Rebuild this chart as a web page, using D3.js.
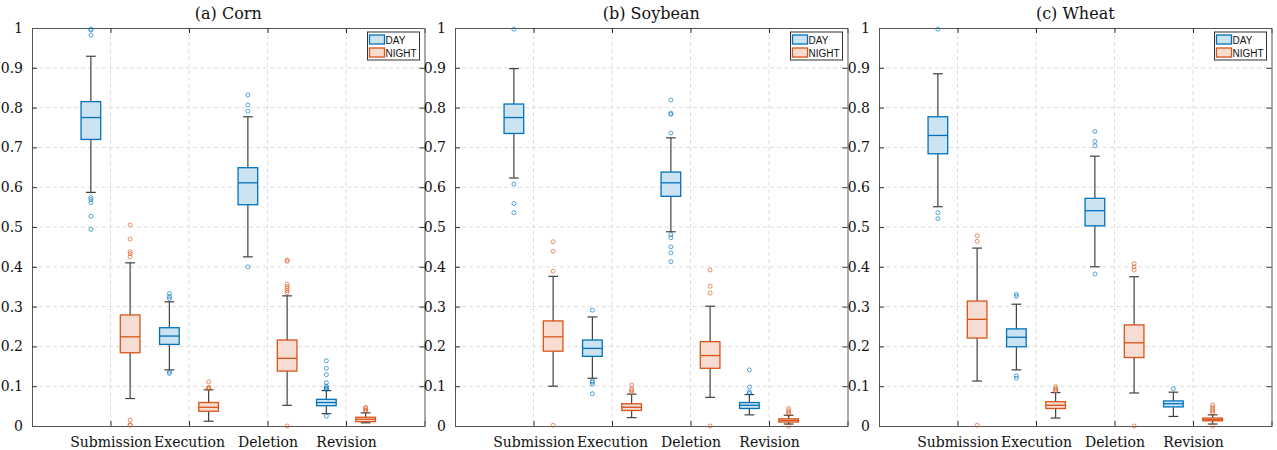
<!DOCTYPE html>
<html>
<head>
<meta charset="utf-8">
<script src="https://cdn.jsdelivr.net/npm/d3@7"></script>
<style>
  body { margin: 0; background: #fff; }
  svg { display: block; }
</style>
</head>
<body>
<div class="chart"></div>
<script>
// Box plots: day vs night ratios per operation, for three crops

var categories = ["Submission", "Execution", "Deletion", "Revision"];
var groups = ["DAY", "NIGHT"];
var y_ticks = [0, 0.1, 0.2, 0.3, 0.4, 0.5, 0.6, 0.7, 0.8, 0.9, 1];
var titles = ["(a) Corn", "(b) Soybean", "(c) Wheat"];

// [lower whisker, q1, median, q3, upper whisker] per category
var corn_day = [[0.587, 0.720, 0.775, 0.815, 0.929], [0.141, 0.205, 0.226, 0.247, 0.312], [0.425, 0.556, 0.611, 0.649, 0.777], [0.031, 0.051, 0.059, 0.067, 0.089]];
var corn_night = [[0.069, 0.184, 0.224, 0.279, 0.410], [0.012, 0.037, 0.047, 0.059, 0.091], [0.052, 0.138, 0.170, 0.216, 0.327], [0.008, 0.011, 0.017, 0.022, 0.033]];
var corn_day_out = [[0.997, 0.995, 0.982, 0.574, 0.569, 0.561, 0.527, 0.494], [0.333, 0.325, 0.320, 0.136, 0.132], [0.832, 0.807, 0.791, 0.400], [0.164, 0.145, 0.129, 0.109, 0.100, 0.096, 0.094, 0.092, 0.025]];
var corn_night_out = [[0.505, 0.470, 0.438, 0.433, 0.425, 0.015, 0.003, 0.002], [0.111, 0.097, 0.095, 0.093], [0.417, 0.414, 0.356, 0.350, 0.345, 0.340, 0.335, 0.0], [0.047, 0.044, 0.040, 0.037]];

var soy_day = [[0.623, 0.735, 0.775, 0.809, 0.898], [0.120, 0.175, 0.195, 0.216, 0.274], [0.488, 0.577, 0.611, 0.638, 0.724], [0.028, 0.044, 0.052, 0.059, 0.079]];
var soy_night = [[0.100, 0.188, 0.224, 0.264, 0.376], [0.021, 0.039, 0.047, 0.056, 0.080], [0.072, 0.145, 0.177, 0.212, 0.301], [0.005, 0.010, 0.014, 0.018, 0.027]];
var soy_day_out = [[0.997, 0.608, 0.559, 0.536], [0.291, 0.113, 0.110, 0.105, 0.081], [0.819, 0.786, 0.783, 0.736, 0.481, 0.473, 0.450, 0.435, 0.413], [0.141, 0.098, 0.085, 0.082]];
var soy_night_out = [[0.463, 0.439, 0.389, 0.002], [0.103, 0.093, 0.089, 0.084], [0.392, 0.351, 0.334, 0.0], [0.044, 0.038, 0.033, 0.029, 0.0]];

var wheat_day = [[0.551, 0.684, 0.730, 0.777, 0.885], [0.141, 0.199, 0.223, 0.244, 0.306], [0.400, 0.503, 0.541, 0.572, 0.678], [0.024, 0.048, 0.056, 0.063, 0.085]];
var wheat_night = [[0.113, 0.221, 0.268, 0.314, 0.447], [0.020, 0.044, 0.052, 0.061, 0.084], [0.083, 0.172, 0.209, 0.254, 0.375], [0.005, 0.013, 0.016, 0.020, 0.028]];
var wheat_day_out = [[0.997, 0.536, 0.521], [0.331, 0.326, 0.126, 0.120], [0.740, 0.715, 0.704, 0.382], [0.094]];
var wheat_night_out = [[0.478, 0.464, 0.002], [0.099, 0.094, 0.090, 0.088], [0.408, 0.400, 0.392, 0.0], [0.053, 0.047, 0.042, 0.037, 0.032, 0.0]];

var panels = [
    {title: titles[0], stats: [corn_day, corn_night], out: [corn_day_out, corn_night_out]},
    {title: titles[1], stats: [soy_day, soy_night], out: [soy_day_out, soy_night_out]},
    {title: titles[2], stats: [wheat_day, wheat_night], out: [wheat_day_out, wheat_night_out]}
];

var edge_colors = ["#0072BD", "#D95319"];
var face_colors = ["#cce3f2", "#f7ddd1"];

var svg_width = 1277, svg_height = 450;
var panel_left = [32, 455, 879];
var panel_width = 392.5;
var plot_top = 28, plot_bottom = 426;

var svg = d3.select('.chart')
    .append('svg')
        .attr('width', svg_width)
        .attr('height', svg_height);

var y = d3.scaleLinear().domain([0, 1]).range([plot_bottom, plot_top]);

panels.forEach(function(p, pi) {
    var x = d3.scaleLinear()
        .domain([0, categories.length + 1])
        .range([0, panel_width]);

    var g = svg.append('g')
        .attr('transform', 'translate(' + panel_left[pi] + ',0)');

    // grid
    g.selectAll('.hgrid')
        .data(y_ticks.slice(1, -1))
        .enter().append('line')
            .attr('x1', 0).attr('x2', panel_width)
            .attr('y1', function(d) { return y(d); })
            .attr('y2', function(d) { return y(d); })
            .attr('stroke', '#dedede')
            .attr('stroke-dasharray', '4,3');
    g.selectAll('.vgrid')
        .data(categories)
        .enter().append('line')
            .attr('x1', function(d, i) { return x(i + 1); })
            .attr('x2', function(d, i) { return x(i + 1); })
            .attr('y1', plot_top).attr('y2', plot_bottom)
            .attr('stroke', '#dedede')
            .attr('stroke-dasharray', '4,3');

    // axes with inward ticks
    g.append('g')
        .call(d3.axisLeft(y).tickValues(y_ticks).tickSize(-5).tickPadding(9)
            .tickFormat(function(d) { return String(+d.toFixed(1)); }));
    g.append('g')
        .attr('transform', 'translate(' + panel_width + ',0)')
        .call(d3.axisRight(y).tickValues(y_ticks).tickSize(-5).tickFormat(''));
    g.append('g')
        .attr('transform', 'translate(0,' + plot_bottom + ')')
        .call(d3.axisBottom(x).tickValues([1, 2, 3, 4]).tickSize(-5).tickPadding(11)
            .tickFormat(function(d) { return categories[d - 1]; }));
    g.append('g')
        .attr('transform', 'translate(0,' + plot_top + ')')
        .call(d3.axisTop(x).tickValues([1, 2, 3, 4]).tickSize(-5).tickFormat(''));

    g.selectAll('.domain').attr('stroke', '#555');
    g.selectAll('.tick line').attr('stroke', '#333');
    g.selectAll('.tick text')
        .attr('fill', '#111')
        .style('font-family', '"DejaVu Serif", serif')
        .style('font-size', '14px');

    // title
    g.append('text')
        .attr('x', panel_width / 2)
        .attr('y', 19)
        .attr('text-anchor', 'middle')
        .style('font-family', '"DejaVu Serif", serif')
        .style('font-size', '16px')
        .attr('fill', '#111')
        .text(p.title);

    // boxes
    var box_w = x(0.25) - x(0);
    groups.forEach(function(grp, gi) {
        var offset = gi === 0 ? -0.25 : 0.25;
        p.stats[gi].forEach(function(s, ci) {
            var cx = x(ci + 1 + offset);
            var bg = g.append('g');
            // whiskers
            bg.append('line')
                .attr('x1', cx).attr('x2', cx)
                .attr('y1', y(s[3])).attr('y2', y(s[4]))
                .attr('stroke', '#404040').attr('stroke-width', 1.2);
            bg.append('line')
                .attr('x1', cx).attr('x2', cx)
                .attr('y1', y(s[0])).attr('y2', y(s[1]))
                .attr('stroke', '#404040').attr('stroke-width', 1.2);
            [s[0], s[4]].forEach(function(v) {
                bg.append('line')
                    .attr('x1', cx - box_w / 4).attr('x2', cx + box_w / 4)
                    .attr('y1', y(v)).attr('y2', y(v))
                    .attr('stroke', '#404040').attr('stroke-width', 1.2);
            });
            bg.append('rect')
                .attr('x', cx - box_w / 2)
                .attr('y', y(s[3]))
                .attr('width', box_w)
                .attr('height', y(s[1]) - y(s[3]))
                .attr('fill', face_colors[gi])
                .attr('stroke', edge_colors[gi])
                .attr('stroke-width', 1.3);
            bg.append('line')
                .attr('x1', cx - box_w / 2).attr('x2', cx + box_w / 2)
                .attr('y1', y(s[2])).attr('y2', y(s[2]))
                .attr('stroke', edge_colors[gi]).attr('stroke-width', 1.3);
            bg.selectAll('circle')
                .data(p.out[gi][ci])
                .enter().append('circle')
                    .attr('cx', cx)
                    .attr('cy', function(d) { return y(d); })
                    .attr('r', 2)
                    .attr('fill', 'none')
                    .attr('stroke', edge_colors[gi])
                    .attr('stroke-opacity', 0.8)
                    .attr('stroke-width', 0.8);
        });
    });

    // legend
    var lg = g.append('g')
        .attr('transform', 'translate(' + (panel_width - 57) + ',' + (plot_top + 4) + ')');
    lg.append('rect')
        .attr('width', 52).attr('height', 28)
        .attr('fill', '#fff')
        .attr('stroke', '#333').attr('stroke-width', 1);
    groups.forEach(function(grp, gi) {
        lg.append('rect')
            .attr('x', 2).attr('y', 3 + gi * 13)
            .attr('width', 15).attr('height', 9)
            .attr('fill', face_colors[gi])
            .attr('stroke', edge_colors[gi])
            .attr('stroke-width', 1.3);
        lg.append('text')
            .attr('x', 18).attr('y', 12 + gi * 13)
            .style('font-family', '"Liberation Sans", Arial, sans-serif')
            .style('font-size', '10px')
            .attr('fill', '#111')
            .text(grp);
    });
});
</script>
</body>
</html>
